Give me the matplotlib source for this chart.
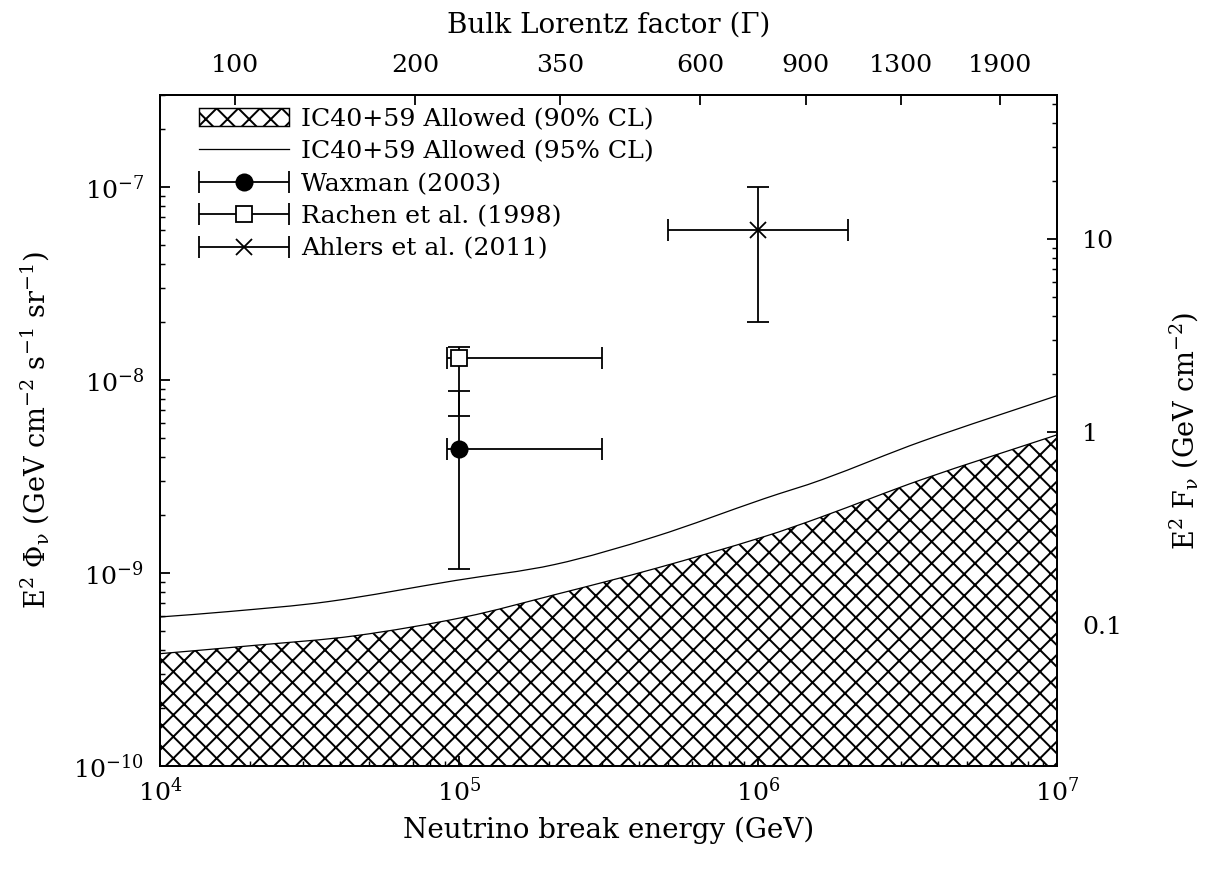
import numpy as np
import matplotlib
matplotlib.use("Agg")
import matplotlib.pyplot as plt
from matplotlib.ticker import LogLocator, NullLocator, NullFormatter
from matplotlib.container import ErrorbarContainer
from matplotlib.legend_handler import HandlerErrorbar
from matplotlib.patches import Rectangle, PathPatch
from matplotlib.path import Path
from matplotlib.lines import Line2D

# Allowed flux upper limits vs. neutrino break energy
energy_90 = [1e4, 2.08e4, 4.49e4, 1.047e5, 2.09e5, 4.53e5, 1.05e6, 1.64e6, 3.53e6, 1e7]
allowed_90 = [3.82e-10, 4.22e-10, 4.73e-10, 5.92e-10, 7.72e-10, 1.055e-9, 1.545e-9,
              1.96e-9, 3.05e-9, 5.2e-9]
energy_95 = [1e4, 1.69e4, 3.65e4, 9.7e4, 2.09e5, 4.53e5, 1.05e6, 1.64e6, 3.53e6, 1e7]
allowed_95 = [5.92e-10, 6.31e-10, 7.11e-10, 9.14e-10, 1.107e-9, 1.545e-9, 2.43e-9,
              3.05e-9, 4.81e-9, 8.3e-9]

# Model predictions (central value and ranges)
model_names = ["Waxman (2003)", "Rachen et al. (1998)", "Ahlers et al. (2011)"]
model_E = [1e5, 1e5, 1e6]
model_E_lo = [9.1e4, 9.1e4, 5e5]
model_E_hi = [3e5, 3e5, 2e6]
model_flux = [4.4e-9, 1.3e-8, 6e-8]
model_flux_lo = [1.05e-9, 6.5e-9, 2e-8]
model_flux_hi = [8.8e-9, 1.48e-8, 1e-7]

# Secondary scales
gamma_ticks = [100, 200, 350, 600, 900, 1300, 1900]
E_PER_GAMMA2 = 1.78          # GeV per Gamma^2
FLUENCE_PER_FLUX = 1.866e8   # GeV cm^-2 per (GeV cm^-2 s^-1 sr^-1)
fluence_ticks = [0.1, 1, 10]
fluence_labels = ["0.1", "1", "10"]

Y_MIN, Y_MAX = 1e-10, 3e-7
X_MIN, X_MAX = 1e4, 1e7

plt.rcParams["font.family"] = ["DejaVu Serif"]
plt.rcParams["mathtext.fontset"] = "dejavuserif"
plt.rcParams["mathtext.default"] = "regular"
plt.rcParams["hatch.linewidth"] = 1.1


def smooth_loglog_path(x, y):
    """Cubic Hermite (Bezier) path through the points, smooth in log-log space."""
    lx = np.log10(np.asarray(x, float))
    ly = np.log10(np.asarray(y, float))
    n = len(lx)
    m = np.empty(n)
    m[0] = (ly[1] - ly[0]) / (lx[1] - lx[0])
    m[-1] = (ly[-1] - ly[-2]) / (lx[-1] - lx[-2])
    m[1:-1] = (ly[2:] - ly[:-2]) / (lx[2:] - lx[:-2])
    verts = [(lx[0], ly[0])]
    codes = [Path.MOVETO]
    for i in range(n - 1):
        h = lx[i + 1] - lx[i]
        verts += [(lx[i] + h / 3, ly[i] + m[i] * h / 3),
                  (lx[i + 1] - h / 3, ly[i + 1] - m[i + 1] * h / 3),
                  (lx[i + 1], ly[i + 1])]
        codes += [Path.CURVE4] * 3
    return 10.0 ** np.array(verts), codes


DPI = 130
fig = plt.figure(figsize=(1209 / DPI, 874 / DPI), dpi=DPI)
ax = fig.add_axes([160 / 1209, 1 - 766 / 874, 897 / 1209, 671 / 874])
ax.set_xscale("log")
ax.set_yscale("log")
ax.set_xlim(X_MIN, X_MAX)
ax.set_ylim(Y_MIN, Y_MAX)

# 90% CL allowed region (hatched)
v90, c90 = smooth_loglog_path(energy_90, allowed_90)
fill_verts = np.vstack([v90, [[energy_90[-1], Y_MIN], [energy_90[0], Y_MIN], [energy_90[0], Y_MIN]]])
fill_codes = c90 + [Path.LINETO, Path.LINETO, Path.CLOSEPOLY]
ax.add_patch(PathPatch(Path(fill_verts, fill_codes), facecolor="white", edgecolor="black",
                       hatch="xx", linewidth=0, zorder=1))
ax.add_patch(PathPatch(Path(v90, c90), fill=False, edgecolor="black", lw=0.7, zorder=2))

# 95% CL line
v95, c95 = smooth_loglog_path(energy_95, allowed_95)
ax.add_patch(PathPatch(Path(v95, c95), fill=False, edgecolor="black", lw=0.7, zorder=2))

markers = ["o", "s", "x"]
mfcs = ["black", "white", "black"]
err_handles = []
for i, name in enumerate(model_names):
    ax.errorbar([model_E[i]], [model_flux[i]],
                yerr=[[model_flux[i] - model_flux_lo[i]], [model_flux_hi[i] - model_flux[i]]],
                fmt="none", ecolor="black", elinewidth=1.0, capsize=6, capthick=1.0, zorder=3)
    h = ax.errorbar([model_E[i]], [model_flux[i]],
                    xerr=[[model_E[i] - model_E_lo[i]], [model_E_hi[i] - model_E[i]]],
                    fmt=markers[i], ms=9, mfc=mfcs[i], mec="black", mew=1.0,
                    color="black", ecolor="black", elinewidth=1.0, capsize=6,
                    capthick=1.0, zorder=4)
    err_handles.append(h)

ax.tick_params(which="both", direction="in", top=False, right=False, labelsize=14)
ax.tick_params(which="major", length=5.5, width=1.0)
ax.tick_params(which="minor", length=3, width=0.8)
ax.tick_params(axis="y", pad=9)
ax.tick_params(axis="x", pad=6)
ax.xaxis.set_major_locator(LogLocator(base=10, numticks=10))
ax.yaxis.set_major_locator(LogLocator(base=10, numticks=10))
for s in ax.spines.values():
    s.set_linewidth(1.1)

ax.set_xlabel("Neutrino break energy (GeV)", fontsize=15.4, labelpad=6)
ax.set_ylabel(r"E$^{2}$ $\Phi_{\mathrm{\nu}}$ (GeV cm$^{-2}$ s$^{-1}$ sr$^{-1}$)",
              fontsize=15, labelpad=12)

# Top axis: bulk Lorentz factor
top = ax.secondary_xaxis(
    "top",
    functions=(lambda e: np.sqrt(np.clip(np.asarray(e, float), 1e-300, None) / E_PER_GAMMA2),
               lambda g: E_PER_GAMMA2 * np.asarray(g, float) ** 2))
top.set_xticks(gamma_ticks, labels=[str(g) for g in gamma_ticks])
top.xaxis.set_minor_locator(NullLocator())
top.tick_params(direction="in", length=5.5, width=1.0, labelsize=14, pad=10)
top.spines["top"].set_linewidth(1.1)
top.set_xlabel("Bulk Lorentz factor (Γ)", fontsize=15.4, labelpad=12)

# Right axis: fluence
right = ax.secondary_yaxis(
    "right",
    functions=(lambda f: np.asarray(f, float) * FLUENCE_PER_FLUX,
               lambda f: np.asarray(f, float) / FLUENCE_PER_FLUX))
right.set_yticks(fluence_ticks, labels=fluence_labels)
right.yaxis.set_minor_locator(LogLocator(base=10, subs=np.arange(2, 10), numticks=20))
right.yaxis.set_minor_formatter(NullFormatter())
right.tick_params(which="both", direction="in", labelsize=14, pad=14)
right.tick_params(which="major", length=5.5, width=1.0)
right.tick_params(which="minor", length=3, width=0.8)
right.spines["right"].set_linewidth(1.1)
right.set_ylabel(r"E$^{2}$ F$_{\mathrm{\nu}}$ (GeV cm$^{-2}$)", fontsize=15, labelpad=25)

# Legend
LEG_FS = 14
hlen = 90 / (LEG_FS * DPI / 72)
hatch_proxy = Rectangle((0, 0), 1, 1, facecolor="white", edgecolor="black",
                        hatch="xx", linewidth=0.8)
line_proxy = Line2D([], [], color="black", lw=0.7)
handles = [hatch_proxy, line_proxy] + err_handles
labels = ["IC40+59 Allowed (90% CL)", "IC40+59 Allowed (95% CL)"] + model_names
ax.legend(handles, labels, loc="upper left", bbox_to_anchor=(0.044, 0.981),
          frameon=False, fontsize=LEG_FS, handlelength=hlen, handletextpad=0.45,
          labelspacing=0.375, borderpad=0, borderaxespad=0, numpoints=1,
          handler_map={ErrorbarContainer: HandlerErrorbar(xerr_size=hlen / 2)})

fig.savefig("out.png", dpi=DPI)
